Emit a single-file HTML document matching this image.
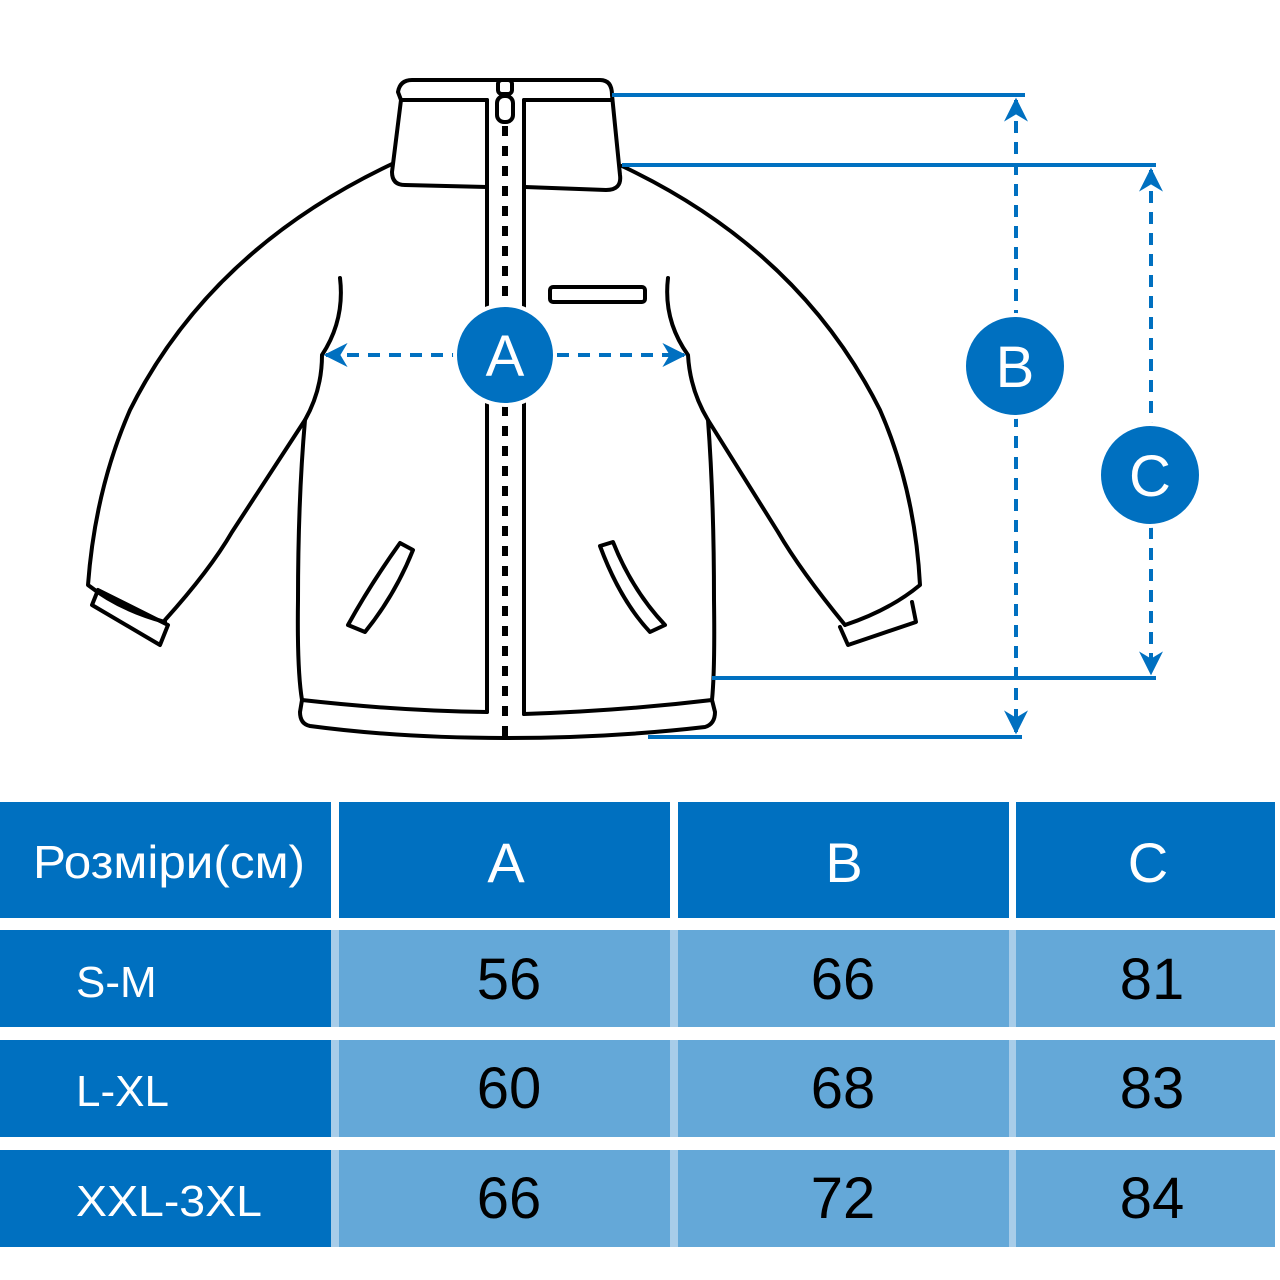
<!DOCTYPE html>
<html><head><meta charset="utf-8"><style>
html,body{margin:0;padding:0;background:#fff;width:1280px;height:1280px;overflow:hidden}
svg{display:block}
text{font-family:"Liberation Sans","Noto Sans CJK SC",sans-serif}
</style></head><body>
<svg width="1280" height="1280" viewBox="0 0 1280 1280" xmlns="http://www.w3.org/2000/svg">
<defs>
<marker id="ar" viewBox="0 0 10 10" refX="9" refY="5" markerWidth="6" markerHeight="6" orient="auto-start-reverse"><path d="M0,0 L10,5 L0,10 L3,5 z" fill="#0070c0"/></marker>
</defs>
<g fill="none" stroke="#000" stroke-width="4" stroke-linejoin="round" stroke-linecap="round">
<path d="M401,100 L398,92 Q400,80 412,80 L600,80 Q612,80 612,95 L620,175 Q622,190 606,190 L525,187"/>
<path d="M401,100 L392,172 Q392,185 405,185 L487,187"/>
<path d="M401,100 L487,100 M524,100 L612,100"/>
<path d="M487,100 L487,712 M524,100 L524,714"/>
<rect x="498" y="80" width="14" height="14" rx="4"/>
<rect x="497" y="96" width="16" height="26" rx="7"/>
<path d="M392,164 Q210,250 130,410 Q95,490 88,585 Q120,610 165,622"/>
<path d="M92,605 L160,645 L168,625 L98,590 Z"/>
<path d="M165,620 Q210,570 232,532 L305,420"/>
<path d="M340,278 Q345,320 322,355 Q322,390 305,420 Q298,500 298,600 Q297,670 302,700 L300,712 Q300,724 310,726 Q400,738 505,738"/>
<path d="M302,700 Q400,711 487,712"/>
<path d="M622,166 Q800,250 880,410 Q915,490 920,585 Q890,610 845,625"/>
<path d="M840,627 L848,645 L916,622 L912,602"/>
<path d="M845,625 Q800,570 778,532 L708,420"/>
<path d="M668,278 Q663,320 688,355 Q690,390 708,420 Q714,500 714,600 Q715,670 712,700 L715,712 Q715,724 705,727 Q610,738 505,738"/>
<path d="M712,700 Q620,711 524,714"/>
<rect x="550" y="287" width="95" height="15" rx="3"/>
<path d="M400,543 L413,550 Q395,595 365,632 L348,625 Q370,585 400,543 Z"/>
<path d="M600,546 L613,542 Q632,590 665,625 L650,632 Q620,600 600,546 Z"/>
</g>
<line x1="505" y1="126" x2="505" y2="736" stroke="#000" stroke-width="6" stroke-dasharray="10,10"/>
<g stroke="#0070c0" stroke-width="4" fill="none">
<path d="M612,95 L1025,95 M648,737 L1022,737 M622,165 L1156,165 M712,678 L1156,678"/>
<line x1="1016" y1="100" x2="1016" y2="732" stroke-dasharray="12,9" marker-start="url(#ar)" marker-end="url(#ar)"/>
<line x1="1151" y1="170" x2="1151" y2="673" stroke-dasharray="12,9" marker-start="url(#ar)" marker-end="url(#ar)"/>
<line x1="326" y1="355" x2="684" y2="355" stroke-dasharray="12,9" marker-start="url(#ar)" marker-end="url(#ar)"/>
</g>
<g fill="#0070c0" stroke="#fff" stroke-width="4">
<circle cx="505" cy="355" r="50"/>
<circle cx="1015" cy="366" r="51"/>
<circle cx="1150" cy="475" r="51"/>
</g>
<g fill="#fff" font-size="58" text-anchor="middle">
<text x="505" y="376">A</text>
<text x="1015" y="387">B</text>
<text x="1150" y="496">C</text>
</g>
<rect x="331" y="930" width="949" height="317" fill="#a8cde9"/>
<rect x="1275" y="930" width="5" height="317" fill="#fff"/>
<g fill="#0070c0">
<rect x="0" y="802" width="331" height="116"/>
<rect x="339" y="802" width="331" height="116"/>
<rect x="678" y="802" width="331" height="116"/>
<rect x="1016" y="802" width="259" height="116"/>
<rect x="0" y="930" width="331" height="97"/>
<rect x="0" y="1040" width="331" height="97"/>
<rect x="0" y="1150" width="331" height="97"/>
</g>
<g fill="#64a8d8">
<rect x="339" y="930" width="331" height="97"/><rect x="678" y="930" width="331" height="97"/><rect x="1016" y="930" width="259" height="97"/>
<rect x="339" y="1040" width="331" height="97"/><rect x="678" y="1040" width="331" height="97"/><rect x="1016" y="1040" width="259" height="97"/>
<rect x="339" y="1150" width="331" height="97"/><rect x="678" y="1150" width="331" height="97"/><rect x="1016" y="1150" width="259" height="97"/>
</g>
<rect x="331" y="1027" width="949" height="13" fill="#fff"/>
<rect x="331" y="1137" width="949" height="13" fill="#fff"/>
<g fill="#fff">
<text x="169" y="878" font-size="46" text-anchor="middle" textLength="272" lengthAdjust="spacingAndGlyphs">Розміри(см)</text>
<text x="506" y="882" font-size="56" text-anchor="middle">A</text>
<text x="844" y="882" font-size="56" text-anchor="middle">B</text>
<text x="1148" y="882" font-size="56" text-anchor="middle">C</text>
<text x="76" y="997" font-size="44">S-M</text>
<text x="76" y="1106" font-size="44">L-XL</text>
<text x="76" y="1216" font-size="44" textLength="186" lengthAdjust="spacingAndGlyphs">XXL-3XL</text>
</g>
<g fill="#000" font-size="58" text-anchor="middle">
<text x="509" y="999">56</text><text x="843" y="999">66</text><text x="1152" y="999">81</text>
<text x="509" y="1108">60</text><text x="843" y="1108">68</text><text x="1152" y="1108">83</text>
<text x="509" y="1218">66</text><text x="843" y="1218">72</text><text x="1152" y="1218">84</text>
</g>
</svg>
</body></html>
